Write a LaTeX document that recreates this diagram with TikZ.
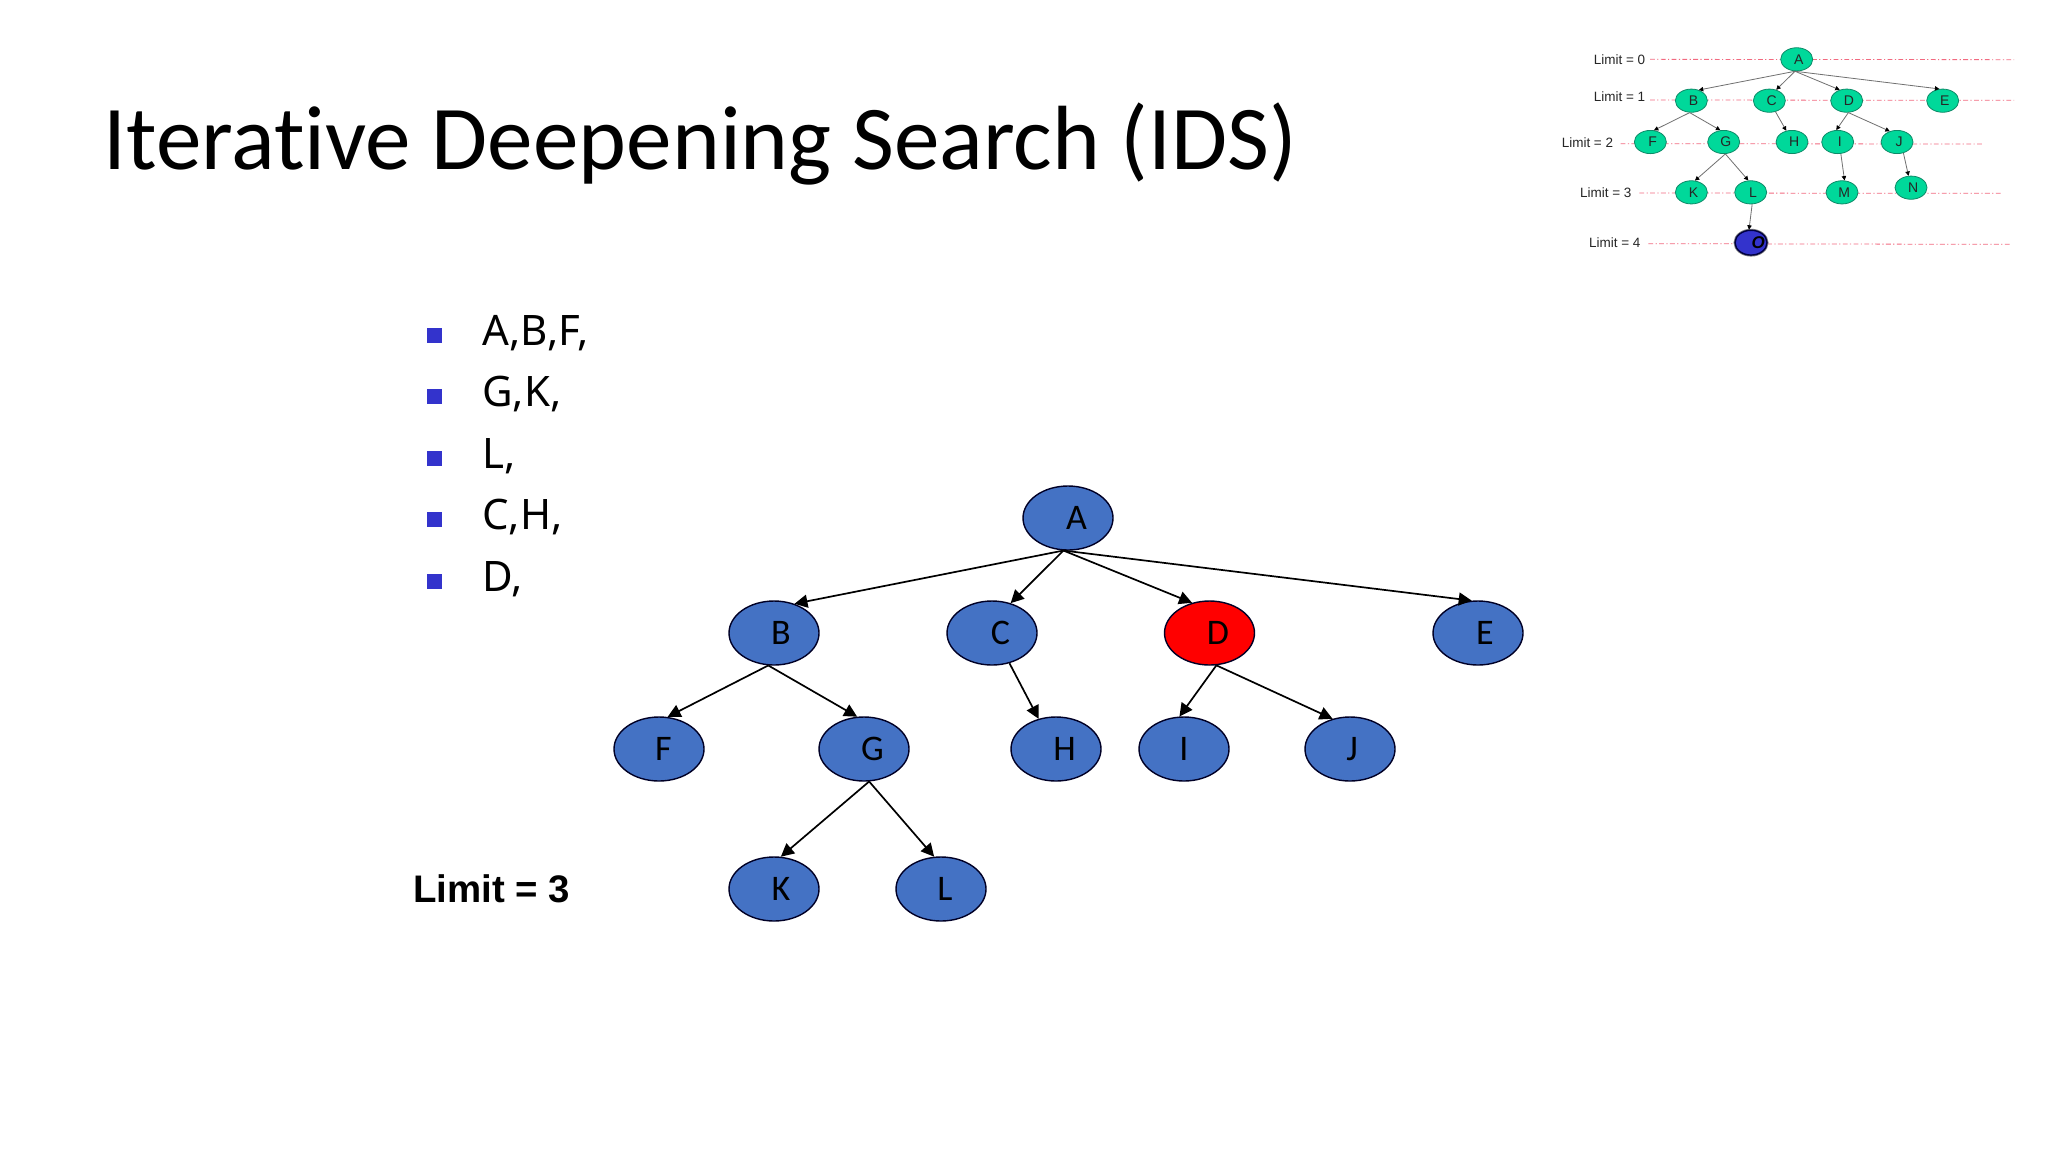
\documentclass[tikz,border=0pt]{standalone}
\usepackage{fontspec}
\setmainfont[Ligatures=NoCommon]{Carlito}
\newfontfamily\lib{Liberation Sans}
\newfontfamily\noto{Noto Sans}
\usetikzlibrary{shapes.geometric,arrows.meta}
\definecolor{bigblue}{HTML}{4472C4}
\definecolor{bulletblue}{HTML}{3333CC}
\definecolor{minigreen}{HTML}{00D89A}
\definecolor{miniedge}{HTML}{0E8A68}
\definecolor{dashred}{HTML}{F26A80}
\definecolor{minigray}{HTML}{707070}
\tikzset{
  big/.style={ellipse,draw=black!85!blue,line width=0.7pt,fill=bigblue,minimum width=45pt,minimum height=32pt,inner sep=0pt,font=\fontsize{18pt}{20pt}\selectfont,execute at begin node={\hspace*{#1}}},
  big/.default=8.5pt,
  bigarrow/.style={line width=0.85pt,-{Triangle[length=6.5pt,width=6.5pt]}},
  mini/.style={ellipse,draw=miniedge,line width=0.4pt,fill=minigreen,minimum width=16pt,minimum height=11.6pt,inner sep=0pt,font=\lib\fontsize{7pt}{8pt}\selectfont,text=black!85,execute at begin node={\hspace*{2.2pt}}},
  miniarrow/.style={line width=0.4pt,draw=minigray,-{Triangle[length=2.2pt,width=2.2pt,color=black]}},
  limitlabel/.style={font=\lib\fontsize{6.75pt}{8pt}\selectfont,text=black!85,anchor=west,inner sep=0pt},
  level/.style={draw=dashred,line width=0.4pt,dash pattern=on 2.4pt off 1.2pt on 0.6pt off 1.2pt},
  bullet/.style={fill=bulletblue,draw=none,minimum size=7.5pt,inner sep=0pt,shape=rectangle},
  item/.style={font=\noto\fontsize{21pt}{24pt}\selectfont,anchor=base west,inner sep=0pt},
}
\begin{document}
\begin{tikzpicture}[x=0.5pt,y=-0.5pt]
\useasboundingbox (0,0) rectangle (2048,1152);
\fill[white] (0,0) rectangle (2048,1152);
\node[anchor=base west,inner sep=0pt,font=\fontsize{45.6pt}{50pt}\selectfont] (title) at (103,169) {Iterative Deepening Search (IDS)};

% bullets
\node[bullet] (b1) at (434.5,335) {};
\node[bullet] (b2) at (434.5,396.5) {};
\node[bullet] (b3) at (434.5,458) {};
\node[bullet] (b4) at (434.5,519) {};
\node[bullet] (b5) at (434.5,581) {};
\node[item] (t1) at (482,345) {A,B,F,};
\node[item] (t2) at (482,406.5) {G,K,};
\node[item] (t3) at (482,468) {L,};
\node[item] (t4) at (482,529) {C,H,};
\node[item] (t5) at (482,591) {D,};

\node[font=\lib\bfseries\fontsize{19.2pt}{22pt}\selectfont,anchor=west,inner sep=0pt] (lim) at (413,889) {Limit = 3};

% main tree
\node[big] (A) at (1068,518) {A};
\node[big=7pt] (B) at (774,633) {B};
\node[big] (C) at (992,633) {C};
\node[big,fill=red] (D) at (1209.5,633) {D};
\node[big=7pt] (E) at (1478,633) {E};
\node[big=4.5pt] (F) at (659,749) {F};
\node[big] (G) at (864,749) {G};
\node[big] (H) at (1056,749) {H};
\node[big=0pt] (I) at (1184,749) {I};
\node[big=2pt] (J) at (1350,749) {J};
\node[big=7pt] (K) at (774,889) {K};
\node[big=4pt] (L) at (941,889) {L};
\draw[bigarrow] (A.262) -- (B.55);
\draw[bigarrow] (A.262) -- (C.58);
\draw[bigarrow] (A.262) -- (D.120);
\draw[bigarrow] (A.262) -- (E.101);
\draw[bigarrow] (B.260) -- (F.75);
\draw[bigarrow] (B.260) -- (G.102);
\draw[bigarrow] (C.300) -- (H.120);
\draw[bigarrow] (D.282) -- (I.98);
\draw[bigarrow] (D.282) -- (J.120);
\draw[bigarrow] (G.279) -- (K.78);
\draw[bigarrow] (G.279) -- (L.102);

% inset
\begin{scope}[shift={(1540,30)}]
\begin{scope}[x=0.16667pt,y=-0.16667pt]
\coordinate (l0a) at (330,88); \coordinate (l0b) at (1422,89);
\coordinate (l1a) at (330,210); \coordinate (l1b) at (1422,211);
\coordinate (l2a) at (242,341); \coordinate (l2b) at (1332,342);
\coordinate (l3a) at (298,489); \coordinate (l3b) at (1388,490);
\coordinate (l4a) at (325,641); \coordinate (l4b) at (1415,643);
\draw[level] (l0a) -- (l0b);
\draw[level] (l1a) -- (l1b);
\draw[level] (l2a) -- (l2b);
\draw[level] (l3a) -- (l3b);
\draw[level] (l4a) -- (l4b);
\node[limitlabel] (L0) at (160,88) {Limit = 0};
\node[limitlabel] (L1) at (160,201) {Limit = 1};
\node[limitlabel] (L2) at (64,339) {Limit = 2};
\node[limitlabel] (L3) at (119,487) {Limit = 3};
\node[limitlabel] (L4) at (146,637) {Limit = 4};
\node[mini] (a) at (770,88) {A};
\node[mini] (b) at (454,212) {B};
\node[mini] (c) at (688,212) {C};
\node[mini] (d) at (920,212) {D};
\node[mini] (e) at (1208,212) {E};
\node[mini] (f) at (331,336) {F};
\node[mini] (g) at (551,336) {G};
\node[mini] (h) at (756,336) {H};
\node[mini] (i) at (893,336) {I};
\node[mini] (j) at (1071,336) {J};
\node[mini] (k) at (454,487) {K};
\node[mini] (l) at (632,487) {L};
\node[mini] (m) at (906,487) {M};
\node[mini] (n) at (1113,473) {N};
\node[mini,fill=bulletblue,draw=black!75!blue,line width=0.7pt,preaction={draw=gray,line width=1.5pt},font=\lib\bfseries\itshape\fontsize{8.5pt}{9pt}\selectfont,text=black,execute at begin node={},minimum height=12.4pt] (o) at (633,638) {\makebox[0pt]{\hspace*{5pt}O}};
\draw[miniarrow] (a.262) -- (b.55);
\draw[miniarrow] (a.262) -- (c.58);
\draw[miniarrow] (a.262) -- (d.123);
\draw[miniarrow] (a.262) -- (e.106);
\draw[miniarrow] (b.262) -- (f.73);
\draw[miniarrow] (b.262) -- (g.106);
\draw[miniarrow] (c.299) -- (h.117);
\draw[miniarrow] (d.278) -- (i.97);
\draw[miniarrow] (d.278) -- (j.124);
\draw[miniarrow] (g.278) -- (k.73);
\draw[miniarrow] (g.278) -- (l.101);
\draw[miniarrow] (i.285) -- (m.78);
\draw[miniarrow] (j.300) -- (n.102);
\draw[miniarrow] (l.277) -- (o.99);
\end{scope}
\end{scope}
\end{tikzpicture}
\end{document}
